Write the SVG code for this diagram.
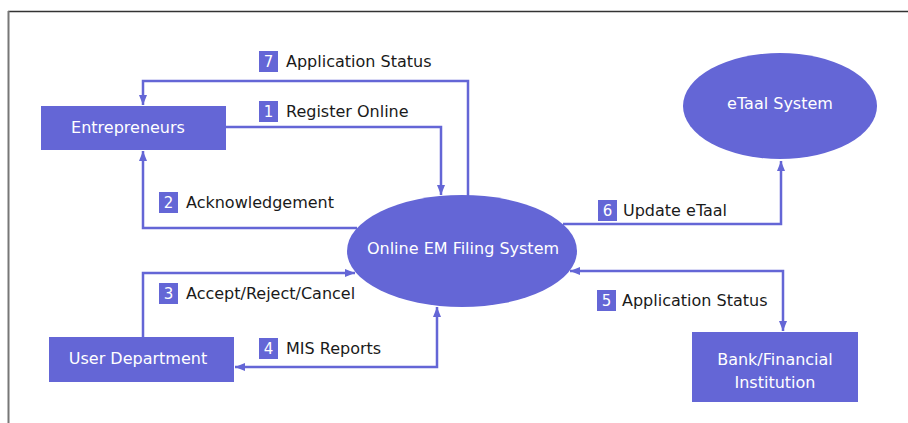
<svg xmlns="http://www.w3.org/2000/svg" width="908" height="423" viewBox="0 0 908 423">
  <defs>
    <style>
      .node { fill: #6466d6; }
      .ntext { fill: #ffffff; font-family: "DejaVu Sans", sans-serif; font-size: 16px; text-anchor: middle; }
      .conn { fill: none; stroke: #6466d6; stroke-width: 2.5; }
      .lbox { fill: #6466d6; }
      .lnum { fill: #ffffff; font-family: "DejaVu Sans", sans-serif; font-size: 15px; text-anchor: middle; }
      .ltext { fill: #1a1a1a; font-family: "DejaVu Sans", sans-serif; font-size: 16px; }
    </style>
    <marker id="arrow" markerUnits="userSpaceOnUse" markerWidth="10" markerHeight="10" viewBox="0 0 10 10" refX="10" refY="5" orient="auto-start-reverse">
      <path d="M0,1 L10,5 L0,9 Z" fill="#6466d6"/>
    </marker>
  </defs>
  <rect width="908" height="423" fill="#ffffff"/>
  <g id="frame">
    <line x1="8" y1="11.5" x2="908" y2="11.5" stroke="#333333" stroke-width="1.5"/>
    <line x1="8.5" y1="11" x2="8.5" y2="423" stroke="#777777" stroke-width="2"/>
  </g>

  <g id="connectors">
    <path class="conn" d="M468,196 V81 H143 V105" marker-end="url(#arrow)"/>
    <path class="conn" d="M226,127 H441 V195" marker-end="url(#arrow)"/>
    <path class="conn" d="M357,228 H143 V151" marker-end="url(#arrow)"/>
    <path class="conn" d="M563,224 H781 V161" marker-end="url(#arrow)"/>
    <path class="conn" d="M570,271 H783 V331" marker-start="url(#arrow)" marker-end="url(#arrow)"/>
    <path class="conn" d="M143,337 V273 H355" marker-end="url(#arrow)"/>
    <path class="conn" d="M235,367 H437 V307" marker-start="url(#arrow)" marker-end="url(#arrow)"/>
  </g>

  <g id="labels">
    <g id="label-7">
      <rect class="lbox" x="259" y="51" width="19" height="21"/>
      <text class="lnum" x="268.5" y="67">7</text>
      <text class="ltext" x="286" y="67">Application Status</text>
    </g>
    <g id="label-1">
      <rect class="lbox" x="259" y="101" width="19" height="21"/>
      <text class="lnum" x="268.5" y="117">1</text>
      <text class="ltext" x="286" y="117">Register Online</text>
    </g>
    <g id="label-2">
      <rect class="lbox" x="159" y="192" width="19" height="21"/>
      <text class="lnum" x="168.5" y="208">2</text>
      <text class="ltext" x="186" y="208">Acknowledgement</text>
    </g>
    <g id="label-6">
      <rect class="lbox" x="598" y="200" width="19" height="21"/>
      <text class="lnum" x="607.5" y="216">6</text>
      <text class="ltext" x="623" y="216">Update eTaal</text>
    </g>
    <g id="label-3">
      <rect class="lbox" x="159" y="283" width="19" height="21"/>
      <text class="lnum" x="168.5" y="299">3</text>
      <text class="ltext" x="186" y="299">Accept/Reject/Cancel</text>
    </g>
    <g id="label-5">
      <rect class="lbox" x="597" y="290" width="19" height="21"/>
      <text class="lnum" x="606.5" y="306">5</text>
      <text class="ltext" x="622" y="306">Application Status</text>
    </g>
    <g id="label-4">
      <rect class="lbox" x="259" y="338" width="19" height="21"/>
      <text class="lnum" x="268.5" y="354">4</text>
      <text class="ltext" x="286" y="354">MIS Reports</text>
    </g>
  </g>

  <g id="entrepreneurs">
    <rect class="node" x="41" y="106" width="185" height="44"/>
    <text class="ntext" x="128" y="133">Entrepreneurs</text>
  </g>
  <g id="online-em-filing-system">
    <ellipse class="node" cx="462" cy="251" rx="115" ry="56"/>
    <text class="ntext" x="463" y="254">Online EM Filing System</text>
  </g>
  <g id="etaal-system">
    <ellipse class="node" cx="780" cy="106" rx="97" ry="53"/>
    <text class="ntext" x="780" y="109">eTaal System</text>
  </g>
  <g id="user-department">
    <rect class="node" x="49" y="337" width="185" height="45"/>
    <text class="ntext" x="138" y="364">User Department</text>
  </g>
  <g id="bank">
    <rect class="node" x="692" y="332" width="166" height="70"/>
    <text class="ntext" x="775" y="365">Bank/Financial</text>
    <text class="ntext" x="775" y="388">Institution</text>
  </g>
</svg>
